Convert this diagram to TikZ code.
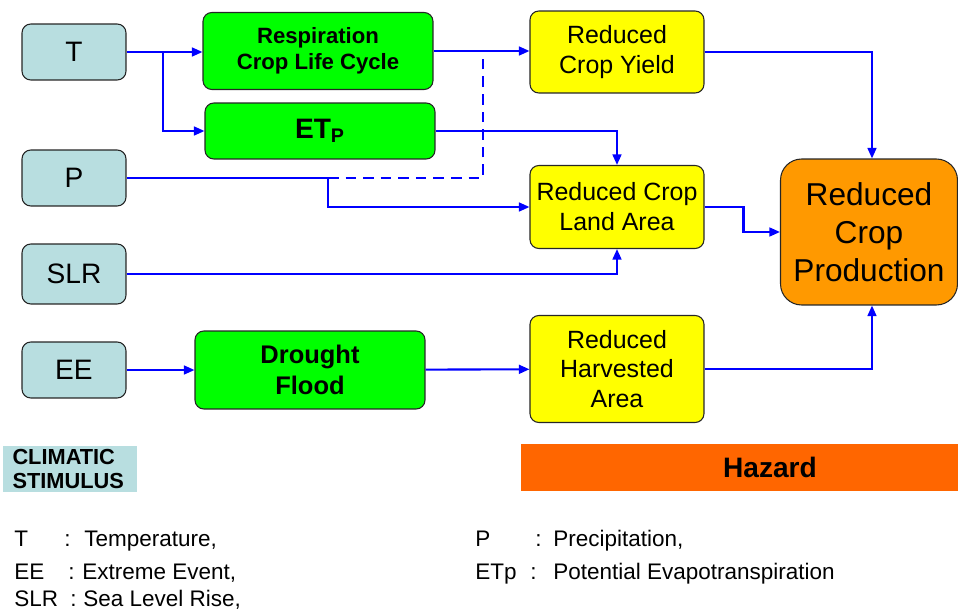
\documentclass[tikz,border=0pt]{standalone}
\usepackage{fontspec}
\setmainfont{Liberation Sans}
\usetikzlibrary{positioning, arrows.meta}
\definecolor{stimblue}{RGB}{184,222,224}
\definecolor{effgreen}{RGB}{0,255,0}
\definecolor{impyellow}{RGB}{255,255,0}
\definecolor{prodorange}{RGB}{255,153,0}
\definecolor{hazorange}{RGB}{255,102,0}
\definecolor{linkblue}{RGB}{0,0,255}

\begin{document}
\begin{tikzpicture}[x=0.02cm, y=-0.02cm]
    % Define the style for the boxes
    \tikzset{
        box/.style={rectangle, rounded corners=5pt, draw=black!85, line width=0.6pt, align=center, inner sep=1pt},
        stimbox/.style={box, fill=stimblue, minimum width=2.08cm, minimum height=1.12cm, font=\fontsize{16}{18}\selectfont},
        effbox/.style={box, fill=effgreen, minimum width=4.6cm, font=\bfseries},
        impbox/.style={box, fill=impyellow, minimum width=3.48cm, font=\fontsize{14.2}{17}\selectfont},
        flow/.style={draw=linkblue, line width=1.2pt, -{Triangle[length=6pt, width=5pt]}},
        dashlink/.style={draw=linkblue, line width=1.2pt, dashed, dash pattern=on 6pt off 4pt},
        legend/.style={anchor=base west, inner sep=0pt, font=\fontsize{12.8}{15}\selectfont}
    }
    \useasboundingbox (0,0) rectangle (958,612);

    % Draw the climatic stimuli
    \node[stimbox] (T) at (74,52) {T};
    \node[stimbox] (P) at (74,178) {P};
    \node[stimbox, minimum height=1.2cm] (SLR) at (74,274) {SLR};
    \node[stimbox] (EE) at (74,370) {EE};

    % Draw the effects
    \node[effbox, minimum height=1.54cm, font=\bfseries\fontsize{12.6}{15}\selectfont] (Resp) at (318,51) {Respiration\\Crop Life Cycle};
    \node[effbox, minimum height=1.12cm, font=\bfseries\fontsize{16}{18}\selectfont] (ETP) at (320,131) {ET\textsubscript{P}};
    \node[effbox, minimum height=1.56cm, font=\bfseries\fontsize{14.5}{18}\selectfont] (Drought) at (310,370) {Drought\\Flood};

    % Draw the impacts
    \node[impbox, minimum height=1.64cm] (Yield) at (617,52) {Reduced\\Crop Yield};
    \node[impbox, minimum height=1.66cm] (Land) at (617,207) {Reduced Crop\\Land Area};
    \node[impbox, minimum height=2.14cm] (Harv) at (617,369) {Reduced\\Harvested\\Area};
    \node[box, rounded corners=12pt, fill=prodorange, minimum width=3.54cm, minimum height=2.92cm, font=\fontsize{18}{21.5}\selectfont] (Prod) at (869,232) {Reduced\\Crop\\Production};

    % Draw the labels
    \node[fill=stimblue, minimum width=2.7cm, minimum height=0.94cm, text width=2.3cm, align=left, font=\bfseries\fontsize{12.4}{13.5}\selectfont, inner sep=2pt] (Stim) at (70,469) {CLIMATIC\\STIMULUS};
    \node[fill=hazorange, minimum width=8.74cm, minimum height=0.94cm] (HazBar) at (739.5,467.5) {};
    \node[font=\bfseries\fontsize{16}{18}\selectfont] (Hazard) at (770,467.5) {Hazard};

    % Draw the connectors
    \coordinate (tsplit) at (163,52);
    \coordinate (pjoin) at (328,178);
    \coordinate (dtop) at (483,52);
    \draw[flow] (T.east) -- (Resp.west |- T.east);
    \draw[flow] (tsplit) |- (ETP.west);
    \draw[flow] (Resp.east) -- (Yield.west |- Resp.east);
    \draw[dashlink] (pjoin) -| (dtop);
    \draw[flow] (P.east) -- (pjoin) |- (Land.west);
    \draw[flow] (ETP.east) -| (Land.north);
    \draw[flow] (SLR.east) -| (Land.south);
    \draw[flow] (Land.east) -- ++(39,0) |- (Prod.west);
    \draw[flow] (Yield.east) -| ([xshift=0.06cm]Prod.north);
    \draw[flow] (EE) -- (Drought);
    \draw[flow] (Drought) -- (Harv);
    \draw[flow] (Harv.east) -| ([xshift=0.06cm]Prod.south);

    % Draw the legend
    \node[legend] (lgT) at (14,546) {T};
    \node[legend] (lgTc) at (64,546) {:};
    \node[legend] (lgTt) at (84,546) {Temperature,};
    \node[legend] (lgEE) at (14,579) {EE};
    \node[legend] (lgEEc) at (68,579) {:};
    \node[legend] (lgEEt) at (82,579) {Extreme Event,};
    \node[legend] (lgSLR) at (14,606) {SLR};
    \node[legend] (lgSLRc) at (70,606) {:};
    \node[legend] (lgSLRt) at (83,606) {Sea Level Rise,};
    \node[legend] (lgP) at (475,546) {P};
    \node[legend] (lgPc) at (535,546) {:};
    \node[legend] (lgPt) at (553,546) {Precipitation,};
    \node[legend] (lgETp) at (475,579) {ETp};
    \node[legend] (lgETpc) at (530,579) {:};
    \node[legend] (lgETpt) at (553,579) {Potential Evapotranspiration};
\end{tikzpicture}
\end{document}
